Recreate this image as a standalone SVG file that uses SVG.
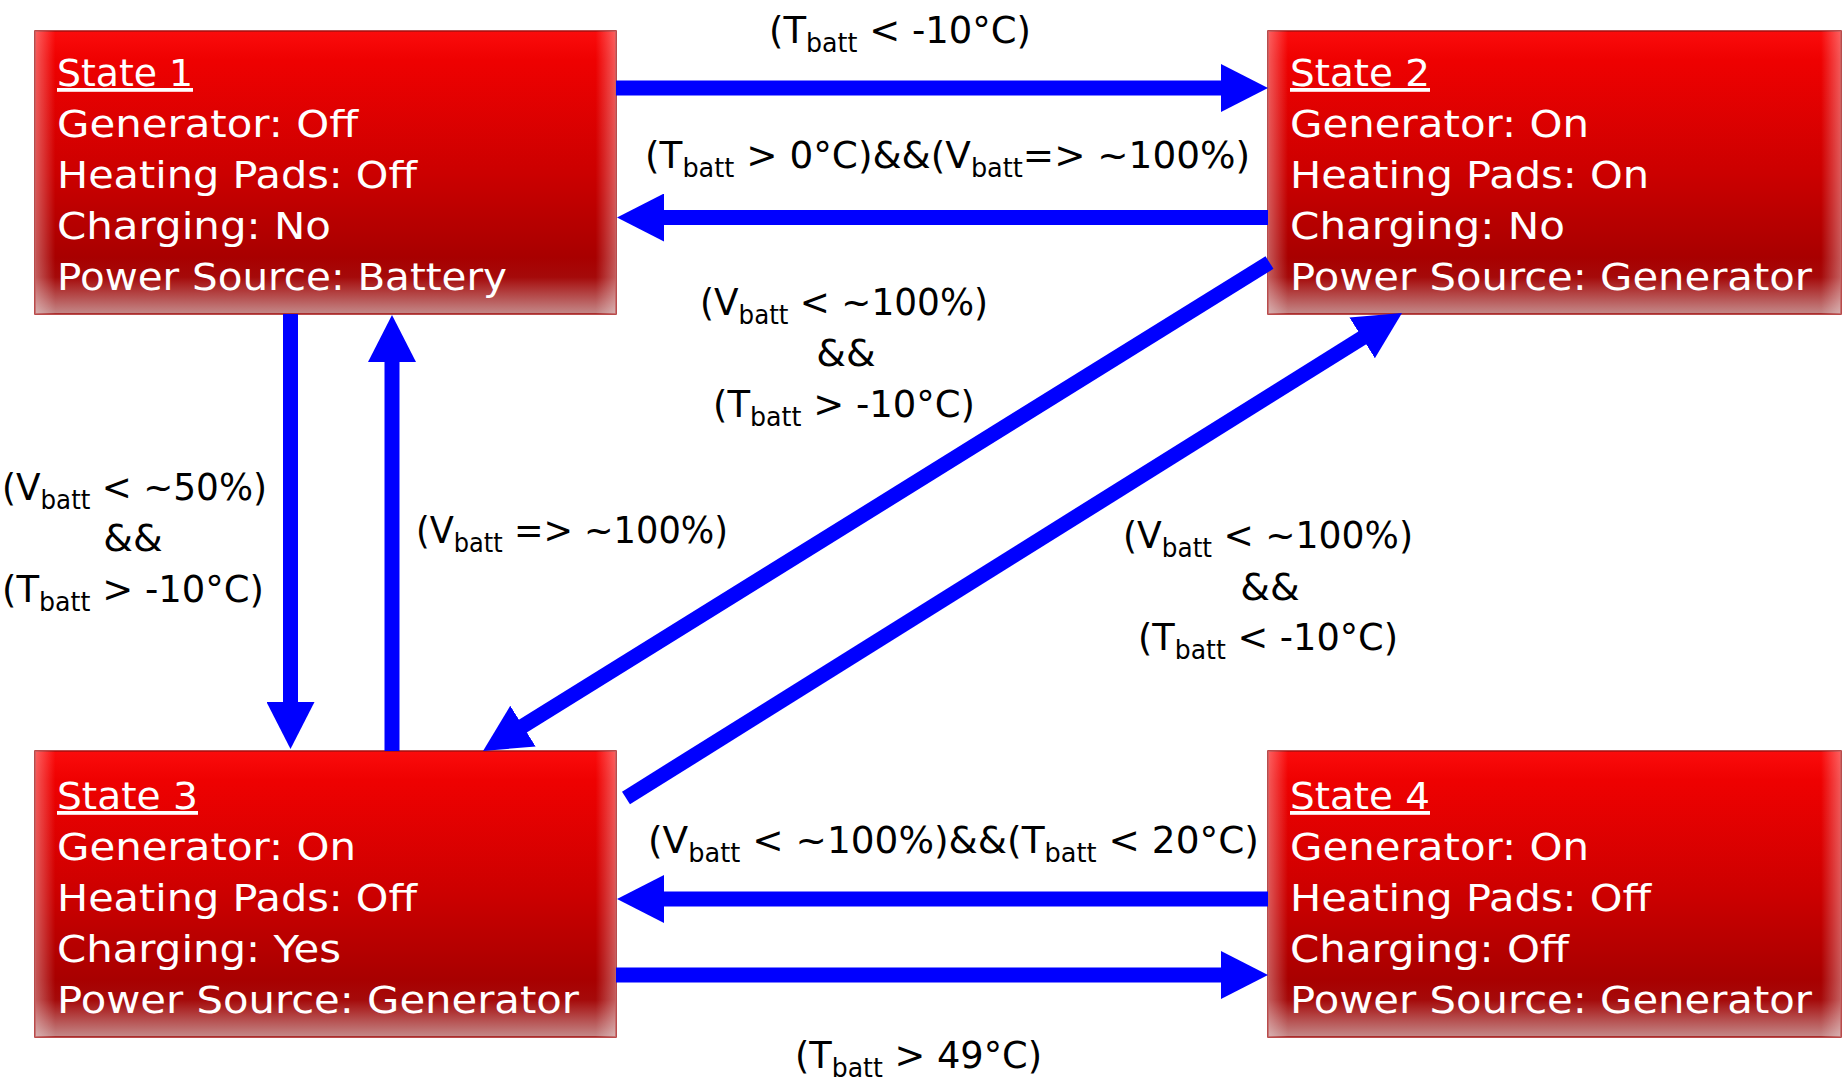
<svg xmlns="http://www.w3.org/2000/svg" width="1847" height="1077" viewBox="0 0 1847 1077">
<style>
.box{stroke:#a31010;stroke-width:1.5}
.glow{fill:url(#gh)}
.bt{font-family:"DejaVu Sans","Liberation Sans",sans-serif;font-size:38px;fill:#fff}
.ttl{text-decoration:underline}
.lb{font-family:"DejaVu Sans","Liberation Sans",sans-serif;font-size:38px;fill:#000}
.s{font-size:26px}
.ar{stroke:#0000ff;stroke-width:15;fill:none;marker-end:url(#ah)}
</style>
<defs>
<linearGradient id="gv" x1="0" y1="0" x2="0" y2="1">
<stop offset="0" stop-color="#fb0c0c"/>
<stop offset="0.1" stop-color="#ef0101"/>
<stop offset="0.5" stop-color="#cc0000"/>
<stop offset="0.8" stop-color="#a80000"/>
<stop offset="0.87" stop-color="#a50a0a"/>
<stop offset="1" stop-color="#c48a8a"/>
</linearGradient>
<linearGradient id="gh" x1="0" y1="0" x2="1" y2="0">
<stop offset="0" stop-color="#fff" stop-opacity="0.35"/>
<stop offset="0.035" stop-color="#fff" stop-opacity="0"/>
<stop offset="0.965" stop-color="#fff" stop-opacity="0"/>
<stop offset="1" stop-color="#fff" stop-opacity="0.35"/>
</linearGradient>
<marker id="ah" markerUnits="userSpaceOnUse" markerWidth="48" markerHeight="48" refX="3" refY="24" orient="auto" viewBox="0 0 48 48">
<path d="M0,0 L47,24 L0,48 Z" fill="#0000ff"/>
</marker>
</defs>
<rect width="1847" height="1077" fill="#fff"/>

<g id="state1">
<rect class="box" x="35" y="31" width="581" height="283" fill="url(#gv)"/>
<rect class="glow" x="35" y="31" width="581" height="283"/>
<text class="bt ttl" x="57" y="86" textLength="136" lengthAdjust="spacingAndGlyphs">State 1</text>
<text class="bt" x="57" y="137" textLength="301" lengthAdjust="spacingAndGlyphs">Generator: Off</text>
<text class="bt" x="57" y="188" textLength="360" lengthAdjust="spacingAndGlyphs">Heating Pads: Off</text>
<text class="bt" x="57" y="239" textLength="274" lengthAdjust="spacingAndGlyphs">Charging: No</text>
<text class="bt" x="57" y="290" textLength="450" lengthAdjust="spacingAndGlyphs">Power Source: Battery</text>
</g>

<g id="state2">
<rect class="box" x="1268" y="31" width="573" height="283" fill="url(#gv)"/>
<rect class="glow" x="1268" y="31" width="573" height="283"/>
<text class="bt ttl" x="1290" y="86" textLength="140" lengthAdjust="spacingAndGlyphs">State 2</text>
<text class="bt" x="1290" y="137" textLength="299" lengthAdjust="spacingAndGlyphs">Generator: On</text>
<text class="bt" x="1290" y="188" textLength="359" lengthAdjust="spacingAndGlyphs">Heating Pads: On</text>
<text class="bt" x="1290" y="239" textLength="275" lengthAdjust="spacingAndGlyphs">Charging: No</text>
<text class="bt" x="1290" y="290" textLength="522" lengthAdjust="spacingAndGlyphs">Power Source: Generator</text>
</g>

<g id="state3">
<rect class="box" x="35" y="751" width="581" height="286" fill="url(#gv)"/>
<rect class="glow" x="35" y="751" width="581" height="286"/>
<text class="bt ttl" x="57" y="809" textLength="141" lengthAdjust="spacingAndGlyphs">State 3</text>
<text class="bt" x="57" y="860" textLength="299" lengthAdjust="spacingAndGlyphs">Generator: On</text>
<text class="bt" x="57" y="911" textLength="360" lengthAdjust="spacingAndGlyphs">Heating Pads: Off</text>
<text class="bt" x="57" y="962" textLength="284" lengthAdjust="spacingAndGlyphs">Charging: Yes</text>
<text class="bt" x="57" y="1013" textLength="522" lengthAdjust="spacingAndGlyphs">Power Source: Generator</text>
</g>

<g id="state4">
<rect class="box" x="1268" y="751" width="573" height="286" fill="url(#gv)"/>
<rect class="glow" x="1268" y="751" width="573" height="286"/>
<text class="bt ttl" x="1290" y="809" textLength="140" lengthAdjust="spacingAndGlyphs">State 4</text>
<text class="bt" x="1290" y="860" textLength="299" lengthAdjust="spacingAndGlyphs">Generator: On</text>
<text class="bt" x="1290" y="911" textLength="361" lengthAdjust="spacingAndGlyphs">Heating Pads: Off</text>
<text class="bt" x="1290" y="962" textLength="279" lengthAdjust="spacingAndGlyphs">Charging: Off</text>
<text class="bt" x="1290" y="1013" textLength="522" lengthAdjust="spacingAndGlyphs">Power Source: Generator</text>
</g>

<g id="connectors">
<line class="ar" x1="616" y1="88" x2="1224" y2="88"/>
<line class="ar" x1="1268" y1="217.5" x2="661" y2="217.5"/>
<line class="ar" x1="290.5" y1="314" x2="290.5" y2="705"/>
<line class="ar" x1="392" y1="751" x2="392" y2="359"/>
<line class="ar" x1="1269.5" y1="262.5" x2="520.4" y2="727.7"/>
<line class="ar" x1="626" y1="798" x2="1364.7" y2="336.3"/>
<line class="ar" x1="1268" y1="899" x2="661" y2="899"/>
<line class="ar" x1="616" y1="975" x2="1224" y2="975"/>
</g>

<g id="labels">
<text class="lb" x="769" y="43" textLength="262" lengthAdjust="spacingAndGlyphs">(T<tspan class="s" dy="9">batt</tspan><tspan dy="-9"> &lt; -10°C)</tspan></text>
<text class="lb" x="645" y="168" textLength="605" lengthAdjust="spacingAndGlyphs">(T<tspan class="s" dy="9">batt</tspan><tspan dy="-9"> &gt; 0°C)&amp;&amp;(V</tspan><tspan class="s" dy="9">batt</tspan><tspan dy="-9">=&gt; ~100%)</tspan></text>
<text class="lb" x="700" y="315" textLength="288" lengthAdjust="spacingAndGlyphs">(V<tspan class="s" dy="9">batt</tspan><tspan dy="-9"> &lt; ~100%)</tspan></text>
<text class="lb" x="846" y="366" text-anchor="middle">&amp;&amp;</text>
<text class="lb" x="713" y="417" textLength="262" lengthAdjust="spacingAndGlyphs">(T<tspan class="s" dy="9">batt</tspan><tspan dy="-9"> &gt; -10°C)</tspan></text>
<text class="lb" x="2" y="500" textLength="265" lengthAdjust="spacingAndGlyphs">(V<tspan class="s" dy="9">batt</tspan><tspan dy="-9"> &lt; ~50%)</tspan></text>
<text class="lb" x="133" y="551" text-anchor="middle">&amp;&amp;</text>
<text class="lb" x="2" y="602" textLength="262" lengthAdjust="spacingAndGlyphs">(T<tspan class="s" dy="9">batt</tspan><tspan dy="-9"> &gt; -10°C)</tspan></text>
<text class="lb" x="416" y="543" textLength="312" lengthAdjust="spacingAndGlyphs">(V<tspan class="s" dy="9">batt</tspan><tspan dy="-9"> =&gt; ~100%)</tspan></text>
<text class="lb" x="1123" y="548" textLength="290" lengthAdjust="spacingAndGlyphs">(V<tspan class="s" dy="9">batt</tspan><tspan dy="-9"> &lt; ~100%)</tspan></text>
<text class="lb" x="1270" y="600" text-anchor="middle">&amp;&amp;</text>
<text class="lb" x="1138" y="650" textLength="260" lengthAdjust="spacingAndGlyphs">(T<tspan class="s" dy="9">batt</tspan><tspan dy="-9"> &lt; -10°C)</tspan></text>
<text class="lb" x="648" y="853" textLength="611" lengthAdjust="spacingAndGlyphs">(V<tspan class="s" dy="9">batt</tspan><tspan dy="-9"> &lt; ~100%)&amp;&amp;(T</tspan><tspan class="s" dy="9">batt</tspan><tspan dy="-9"> &lt; 20°C)</tspan></text>
<text class="lb" x="795" y="1068" textLength="247" lengthAdjust="spacingAndGlyphs">(T<tspan class="s" dy="9">batt</tspan><tspan dy="-9"> &gt; 49°C)</tspan></text>
</g>
</svg>
